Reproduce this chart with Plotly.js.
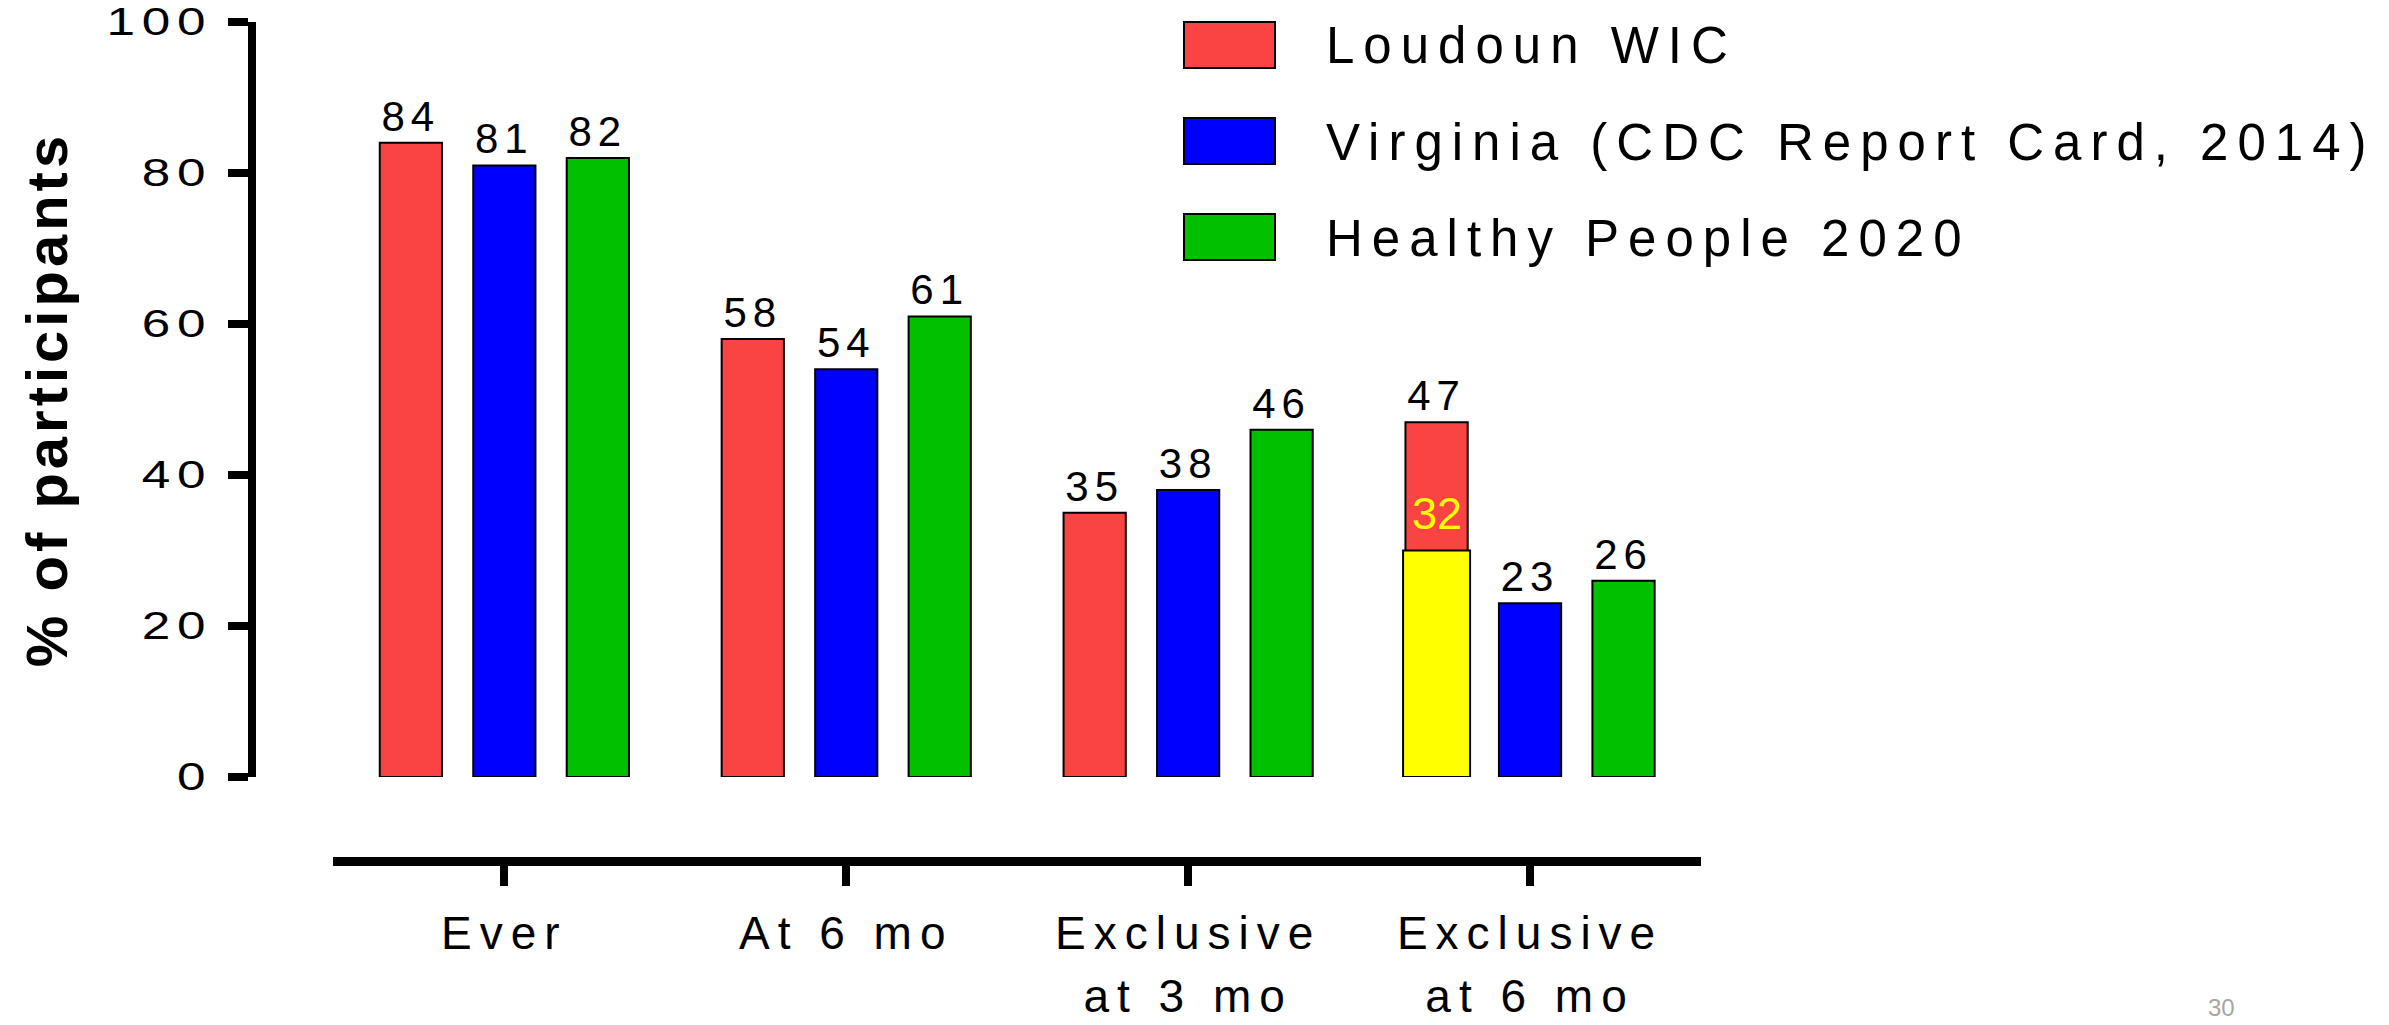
<!DOCTYPE html>
<html><head><meta charset="utf-8">
<script src="https://cdn.plot.ly/plotly-3.0.1.min.js"></script>
<style>
html,body{margin:0;padding:0;background:#fff;}
#chart{width:2389px;height:1025px;}
.xtick text{letter-spacing:8px;}
.ytick text{letter-spacing:5px;}
text.bartext{letter-spacing:6px;}
.g-ytitle text{letter-spacing:4px;}
</style></head>
<body><div id="chart"></div>
<script>
// ---- data ----
const categories = ['Ever', 'At 6 mo', 'Exclusive<br>at 3 mo', 'Exclusive<br>at 6 mo'];
const seriesNames = ['Loudoun WIC', 'Virginia (CDC Report Card, 2014)', 'Healthy People 2020'];
const loudounWIC = [84, 58, 35, 47];
const virginia = [81, 54, 38, 23];
const healthyPeople2020 = [82, 61, 46, 26];
const highlightCategory = ['Exclusive<br>at 6 mo'];
const highlightValue = [30];
const highlightLabel = ['32'];
const yTickValues = [0, 20, 40, 60, 80, 100];
const yTickLabels = ['0', '20', '40', '60', '80', '100'];
const yTitle = '% of participants';
const pageNumber = '30';

// ---- style / layout constants ----
const FONT = 'Arial, "Liberation Sans", sans-serif';
const colors = ['#FA4444', '#0000FF', '#00C000'];
const highlightColor = '#FFFF00';
const barW = 0.182, pitch = 0.2734;
const W = 2389, H = 1025;
const M = {l: 252, r: 688, t: 22, b: 164};
const plotW = W - M.l - M.r, plotH = H - M.t - M.b;
const px2x = px => (px - M.l) / plotW;
const py2y = py => (H - M.b - py) / plotH;

const seriesValues = [loudounWIC, virginia, healthyPeople2020];
const traces = seriesValues.map((vals, i) => ({
  type: 'bar',
  name: seriesNames[i],
  x: categories,
  y: vals,
  text: vals.map(String),
  textposition: 'outside',
  constraintext: 'none',
  cliponaxis: false,
  textfont: {family: FONT, size: 42, color: '#000'},
  marker: {color: colors[i], line: {color: '#000', width: 2}},
  width: barW,
  offset: (i - 1) * pitch - barW / 2,
  showlegend: false,
  hoverinfo: 'skip'
}));
traces.push({
  type: 'bar',
  name: 'highlight',
  showlegend: false,
  x: highlightCategory,
  y: highlightValue,
  marker: {color: highlightColor, line: {color: '#000', width: 2}},
  width: 0.196,
  offset: -pitch - 0.098,
  hoverinfo: 'skip'
});

// legend drawn as layout shapes + annotations (large swatches)
const legendRowPx = i => 45 + 96 * i;
const shapes = seriesNames.map((n, i) => ({
  type: 'rect', xref: 'paper', yref: 'paper', layer: 'above',
  x0: px2x(1184), x1: px2x(1275),
  y0: py2y(legendRowPx(i) - 23), y1: py2y(legendRowPx(i) + 23),
  fillcolor: colors[i], line: {color: '#000', width: 2}
}));
const annotations = seriesNames.map((n, i) => ({
  text: '<span style="letter-spacing:9px">' + n + '</span>',
  xref: 'paper', yref: 'paper',
  x: px2x(1324), y: py2y(legendRowPx(i) + 1),
  xanchor: 'left', yanchor: 'middle', showarrow: false,
  font: {family: FONT, size: 51, color: '#000'}
}));
annotations.push({
  text: highlightLabel[0], xref: 'x', yref: 'y',
  x: categories.indexOf(highlightCategory[0]) - pitch, y: highlightValue[0],
  xanchor: 'center', yanchor: 'bottom', yshift: 10, showarrow: false,
  font: {family: FONT, size: 45, color: highlightColor}
});
annotations.push({
  text: pageNumber, xref: 'paper', yref: 'paper', x: px2x(2221), y: py2y(992),
  xanchor: 'center', yanchor: 'top', showarrow: false,
  font: {family: FONT, size: 24, color: '#A6A6A6'}
});

const layout = {
  width: W, height: H,
  margin: {l: M.l, r: M.r, t: M.t, b: M.b, pad: 0},
  paper_bgcolor: '#fff', plot_bgcolor: 'rgba(0,0,0,0)',
  barmode: 'overlay',
  font: {family: FONT, color: '#000'},
  showlegend: false,
  xaxis: {
    type: 'category', categoryorder: 'array', categoryarray: categories,
    range: [-0.5, 3.5], domain: [px2x(333.4), 1], anchor: 'free', position: 0,
    showline: true, linewidth: 9, linecolor: '#000',
    ticks: 'outside', ticklen: 20, tickwidth: 8, tickcolor: '#000',
    ticklabelstandoff: 8,
    tickfont: {family: FONT, size: 46, color: '#000'},
    showgrid: false, zeroline: false, fixedrange: true
  },
  yaxis: {
    range: [0, 100], domain: [(H - M.b - 777) / plotH, 1], anchor: 'free', position: 0,
    tickmode: 'array', tickvals: yTickValues, ticktext: yTickLabels,
    showline: true, linewidth: 8, linecolor: '#000',
    ticks: 'outside', ticklen: 20, tickwidth: 8, tickcolor: '#000',
    ticklabelstandoff: 8,
    tickfont: {family: FONT, size: 38, color: '#000'},
    showgrid: false, zeroline: false, fixedrange: true,
    title: {text: yTitle, font: {family: FONT, size: 58, weight: 'bold', color: '#000'}, standoff: 47}
  },
  shapes: shapes,
  annotations: annotations
};

Plotly.newPlot('chart', traces, layout, {displayModeBar: false, staticPlot: true}).then(() => {
  // widen the spacing between the two lines of the category labels
  document.querySelectorAll('.xtick text tspan.line').forEach(t => {
    const dy = parseFloat(t.getAttribute('dy'));
    if (dy > 0) t.setAttribute('dy', (dy * 1.36 / 1.3).toFixed(3) + 'em');
  });
  // the reference draws the y tick digits wide: stretch them about their right edge
  document.querySelectorAll('.ytick text').forEach(t => {
    const x = parseFloat(t.getAttribute('x')) || 0;
    const prev = t.getAttribute('transform') || '';
    t.setAttribute('transform', (prev + ' translate(' + x + ',0) scale(1.35,1) translate(' + (-x) + ',0)').trim());
  });
});
</script>
</body></html>
